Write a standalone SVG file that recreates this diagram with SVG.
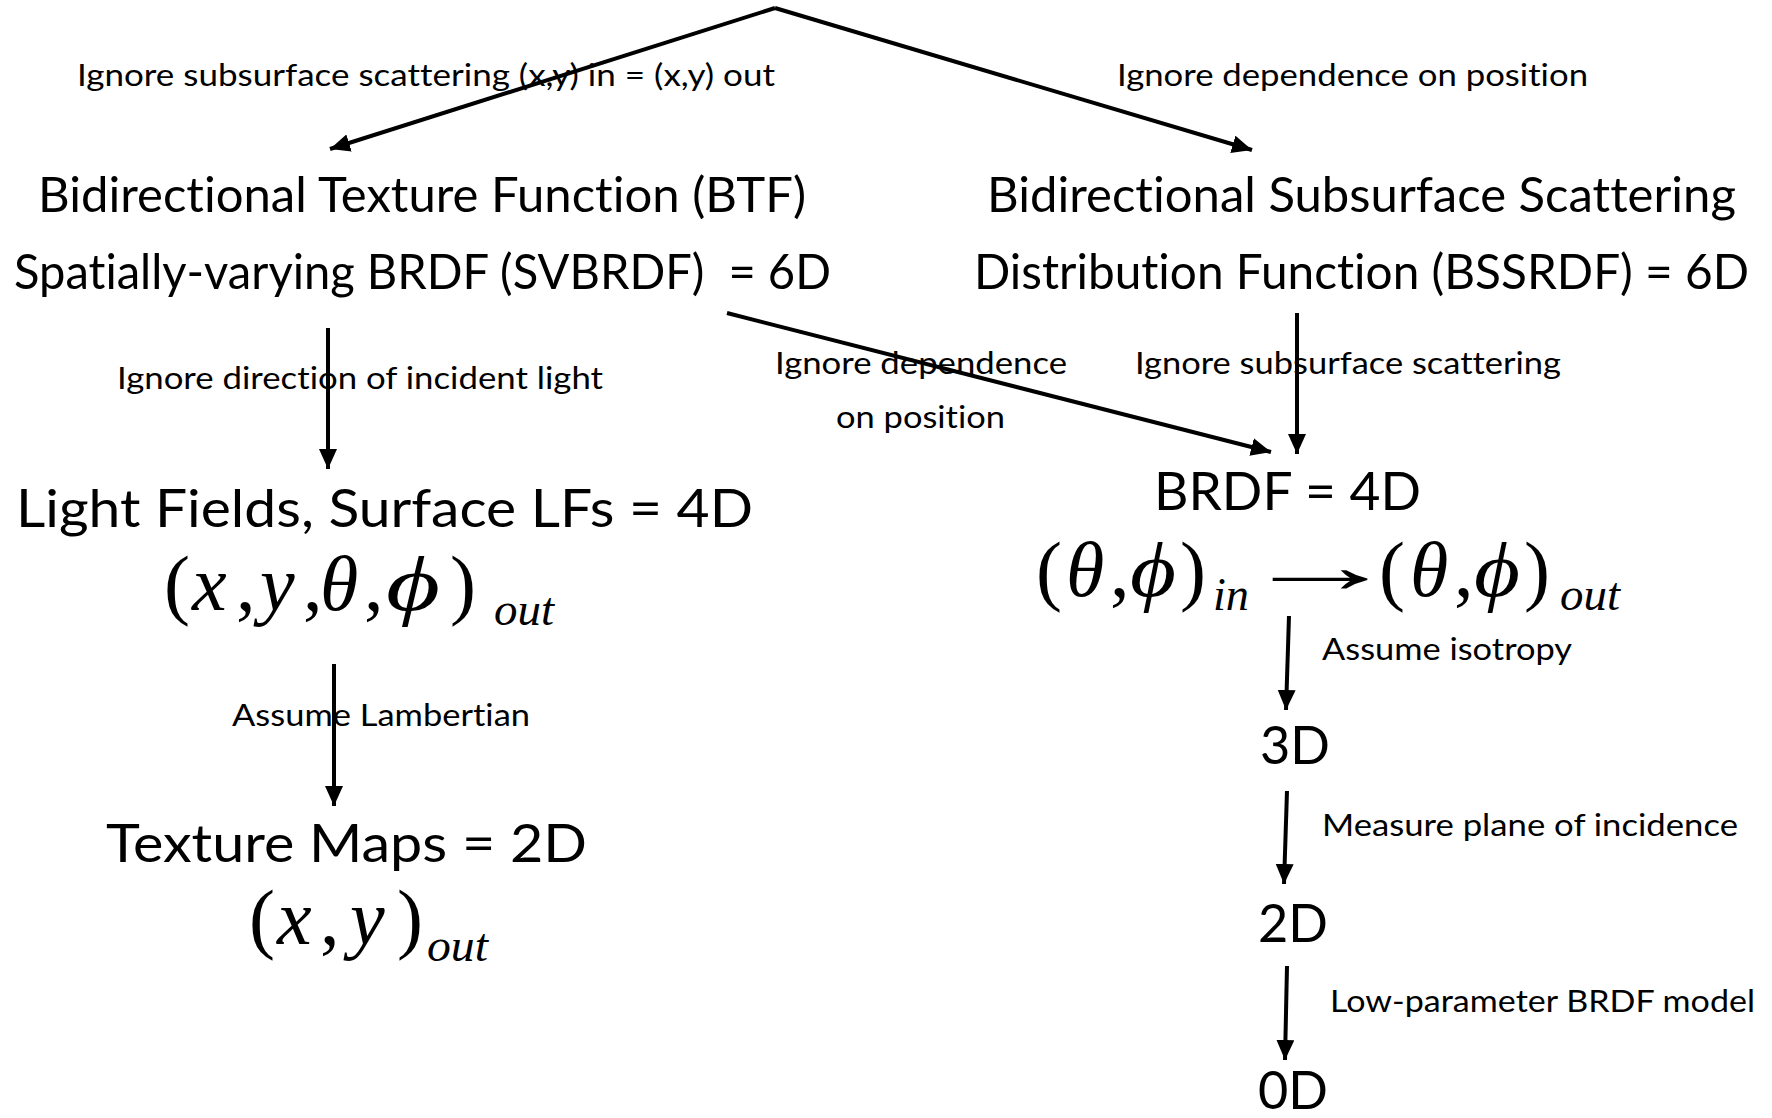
<svg xmlns="http://www.w3.org/2000/svg" width="1772" height="1118" viewBox="0 0 1772 1118">
<style>
text{font-variant-ligatures:none;font-feature-settings:"liga" 0,"dlig" 0}
.lbl{font-family:Lato,"Liberation Sans",sans-serif;font-size:30px;fill:#000}
.ttl{font-family:Lato,"Liberation Sans",sans-serif;font-size:49px;fill:#000;white-space:pre}
.big{font-family:Lato,"Liberation Sans",sans-serif;font-size:52px;fill:#000}
.math{font-family:"Liberation Serif","DejaVu Serif","Times New Roman",serif;font-style:italic;font-size:78px;fill:#000}
.mup{font-family:"Liberation Serif","DejaVu Serif","Times New Roman",serif;font-style:normal;font-size:78px;fill:#000}
.sub{font-family:"Liberation Serif","Times New Roman",serif;font-style:italic;font-size:46px;fill:#000}
.conn{stroke:#000;stroke-width:4;fill:none}
</style>
<defs>
<marker id="ah" markerUnits="userSpaceOnUse" markerWidth="24" markerHeight="20" refX="20" refY="9" orient="auto">
<path d="M0,0 L20,9 L0,18 z" fill="#000"/>
</marker>
</defs>
<rect width="1772" height="1118" fill="#fff"/>
<g id="connectors">
<polyline class="conn" points="775,8 330,149" marker-end="url(#ah)"/>
<polyline class="conn" points="775,8 1252,150" marker-end="url(#ah)"/>
<line class="conn" x1="328" y1="328" x2="328" y2="469" marker-end="url(#ah)"/>
<line class="conn" x1="727" y1="313" x2="1271" y2="452" marker-end="url(#ah)"/>
<line class="conn" x1="1297" y1="313" x2="1297" y2="454" marker-end="url(#ah)"/>
<line class="conn" x1="334" y1="664" x2="334" y2="806" marker-end="url(#ah)"/>
<line class="conn" x1="1289" y1="616" x2="1286" y2="710" marker-end="url(#ah)"/>
<line class="conn" x1="1287" y1="791" x2="1284" y2="884" marker-end="url(#ah)"/>
<line class="conn" x1="1287" y1="966" x2="1285" y2="1060" marker-end="url(#ah)"/>
</g>
<g id="edge-labels">
<text class="lbl" x="77" y="86" textLength="698" lengthAdjust="spacingAndGlyphs">Ignore subsurface scattering (x,y) in = (x,y) out</text>
<text class="lbl" x="1117" y="86" textLength="471" lengthAdjust="spacingAndGlyphs">Ignore dependence on position</text>
<text class="lbl" x="117" y="389" textLength="486" lengthAdjust="spacingAndGlyphs">Ignore direction of incident light</text>
<text class="lbl" x="775" y="374" textLength="292" lengthAdjust="spacingAndGlyphs">Ignore dependence</text>
<text class="lbl" x="836" y="428" textLength="169" lengthAdjust="spacingAndGlyphs">on position</text>
<text class="lbl" x="1135" y="374" textLength="426" lengthAdjust="spacingAndGlyphs">Ignore subsurface scattering</text>
<text class="lbl" x="232" y="726" textLength="298" lengthAdjust="spacingAndGlyphs">Assume Lambertian</text>
<text class="lbl" x="1322" y="660" textLength="250" lengthAdjust="spacingAndGlyphs">Assume isotropy</text>
<text class="lbl" x="1322" y="836" textLength="416" lengthAdjust="spacingAndGlyphs">Measure plane of incidence</text>
<text class="lbl" x="1330" y="1012" textLength="425" lengthAdjust="spacingAndGlyphs">Low-parameter BRDF model</text>
</g>
<g id="node-btf">
<text class="ttl" x="38" y="212" textLength="768" lengthAdjust="spacingAndGlyphs">Bidirectional Texture Function (BTF)</text>
<text class="ttl" x="14" y="289" textLength="817" lengthAdjust="spacingAndGlyphs">Spatially-varying BRDF (SVBRDF)  = 6D</text>
</g>
<g id="node-bssrdf">
<text class="ttl" x="987" y="212" textLength="749" lengthAdjust="spacingAndGlyphs">Bidirectional Subsurface Scattering</text>
<text class="ttl" x="974" y="289" textLength="775" lengthAdjust="spacingAndGlyphs">Distribution Function (BSSRDF) = 6D</text>
</g>
<g id="node-lightfield">
<text class="big" x="16" y="527" textLength="737" lengthAdjust="spacingAndGlyphs">Light Fields, Surface LFs = 4D</text>
<text class="mup" y="610"><tspan x="164">(</tspan></text>
<text class="math" y="610"><tspan x="192">x</tspan></text>
<text class="mup" y="610"><tspan x="236">,</tspan></text>
<text class="math" y="610"><tspan x="260">y</tspan></text>
<text class="mup" y="610"><tspan x="303">,</tspan></text>
<text class="math" y="610"><tspan x="320">θ</tspan></text>
<text class="mup" y="610"><tspan x="364">,</tspan></text>
<text class="math" x="386" y="610" textLength="54" lengthAdjust="spacingAndGlyphs">ϕ</text>
<text class="mup" y="610"><tspan x="450">)</tspan></text>
<text class="sub" x="494" y="625" textLength="60" lengthAdjust="spacingAndGlyphs">out</text>
</g>
<g id="node-brdf">
<text class="big" x="1154" y="510" textLength="267" lengthAdjust="spacingAndGlyphs">BRDF = 4D</text>
<text class="mup" y="596"><tspan x="1036">(</tspan></text>
<text class="math" y="596"><tspan x="1066">θ</tspan></text>
<text class="mup" y="596"><tspan x="1110">,</tspan></text>
<text class="math" x="1130" y="596" textLength="46" lengthAdjust="spacingAndGlyphs">ϕ</text>
<text class="mup" y="596"><tspan x="1180">)</tspan></text>
<text class="sub" x="1213" y="610" textLength="36" lengthAdjust="spacingAndGlyphs">in</text>
<text class="mup" x="1240" y="592" textLength="160" lengthAdjust="spacingAndGlyphs">→</text>
<text class="mup" y="596"><tspan x="1379">(</tspan></text>
<text class="math" y="596"><tspan x="1410">θ</tspan></text>
<text class="mup" y="596"><tspan x="1454">,</tspan></text>
<text class="math" x="1474" y="596" textLength="46" lengthAdjust="spacingAndGlyphs">ϕ</text>
<text class="mup" y="596"><tspan x="1524">)</tspan></text>
<text class="sub" x="1560" y="610" textLength="60" lengthAdjust="spacingAndGlyphs">out</text>
</g>
<g id="node-3d"><text class="big" x="1260" y="764" textLength="70" lengthAdjust="spacingAndGlyphs">3D</text></g>
<g id="node-2d"><text class="big" x="1258" y="942" textLength="70" lengthAdjust="spacingAndGlyphs">2D</text></g>
<g id="node-0d"><text class="big" x="1258" y="1109" textLength="70" lengthAdjust="spacingAndGlyphs">0D</text></g>
<g id="node-texture">
<text class="big" x="106" y="862" textLength="481" lengthAdjust="spacingAndGlyphs">Texture Maps = 2D</text>
<text class="mup" y="944"><tspan x="249">(</tspan></text>
<text class="math" y="944"><tspan x="277">x</tspan></text>
<text class="mup" y="944"><tspan x="320">,</tspan></text>
<text class="math" y="944"><tspan x="350">y</tspan></text>
<text class="mup" y="944"><tspan x="397">)</tspan></text>
<text class="sub" x="427" y="961" textLength="61" lengthAdjust="spacingAndGlyphs">out</text>
</g>
</svg>
